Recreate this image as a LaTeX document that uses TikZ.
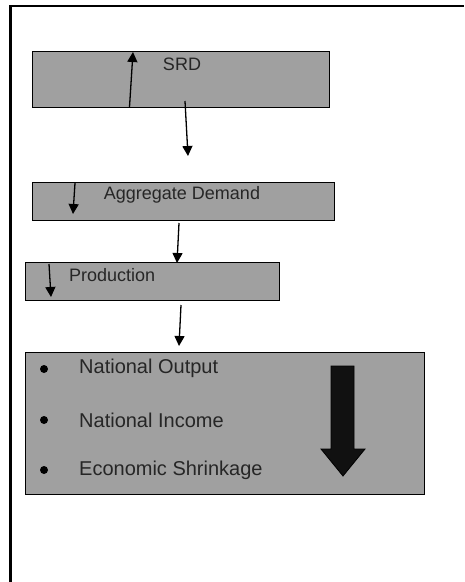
\documentclass[tikz,border=0pt]{standalone}
\usepackage{fontspec}
\setmainfont{Liberation Sans}
\usepackage{tikz}
\usetikzlibrary{arrows.meta}

\definecolor{boxgray}{RGB}{160,160,160}
\definecolor{arrowblack}{RGB}{17,17,17}
\tikzset{
  box/.style={draw=black, line width=1.3pt, fill=boxgray, inner sep=0pt, anchor=north west},
  label/.style={inner sep=0pt, font=\fontsize{18pt}{20pt}\selectfont, text=black!85},
  item/.style={inner sep=0pt, anchor=west, font=\fontsize{20pt}{22pt}\selectfont, text=black!85},
  dot/.style={circle, fill=black, inner sep=0pt, minimum size=8pt},
  arr/.style={line width=1.3pt, -{Triangle[width=10pt,length=10pt]}}
}

\begin{document}
\begin{tikzpicture}[x=1pt,y=-1pt]
\useasboundingbox (0,0) rectangle (464,582);
\draw[line width=2.5pt] (10.5,582) -- (10.5,6) -- (464,6);

% boxes
\node[box, minimum width=297pt, minimum height=56pt] (srd) at (32,51) {};
\node[box, minimum width=302pt, minimum height=38pt] (ad) at (32,182) {};
\node[box, minimum width=254pt, minimum height=38pt] (prod) at (25,262) {};
\node[box, minimum width=399pt, minimum height=142pt] (effects) at (25,352) {};

% texts
\node[label] (srdtext) at (182,64) {SRD};
\node[label] (adtext) at (182,195) {Aggregate Demand};
\node[label, anchor=west] (prodtext) at (69,275) {Production};
\node[dot] (b1) at (44,369) {};
\node[dot] (b2) at (44,420) {};
\node[dot] (b3) at (44,470) {};
\node[item] (output) at (79,368) {National Output};
\node[item] (income) at (79,420) {National Income};
\node[item] (shrink) at (79,470) {Economic Shrinkage};

% arrow ends
\coordinate (srdup) at (133,52);
\coordinate (srdbase) at (129.5,107);
\coordinate (srdout) at (185,101);
\coordinate (adin) at (188,156);
\coordinate (adtop) at (75,183);
\coordinate (addown) at (73,214);
\coordinate (adout) at (179,223);
\coordinate (prodin) at (177,263);
\coordinate (prodtop) at (49,264);
\coordinate (proddown) at (51,297);
\coordinate (prodout) at (181,305);
\coordinate (effin) at (179,346);

% connectors
\draw[arr] (srdbase) -- (srdup);
\draw[arr] (srdout) -- (adin);
\draw[arr] (adtop) -- (addown);
\draw[arr] (adout) -- (prodin);
\draw[arr] (prodtop) -- (proddown);
\draw[arr] (prodout) -- (effin);

% big arrow
\filldraw[fill=arrowblack, draw=black, line width=0.8pt] (331,366) -- (354,366) -- (354,449) -- (365,449) -- (343,476) -- (321,449) -- (331,449) -- cycle;
\end{tikzpicture}
\end{document}
